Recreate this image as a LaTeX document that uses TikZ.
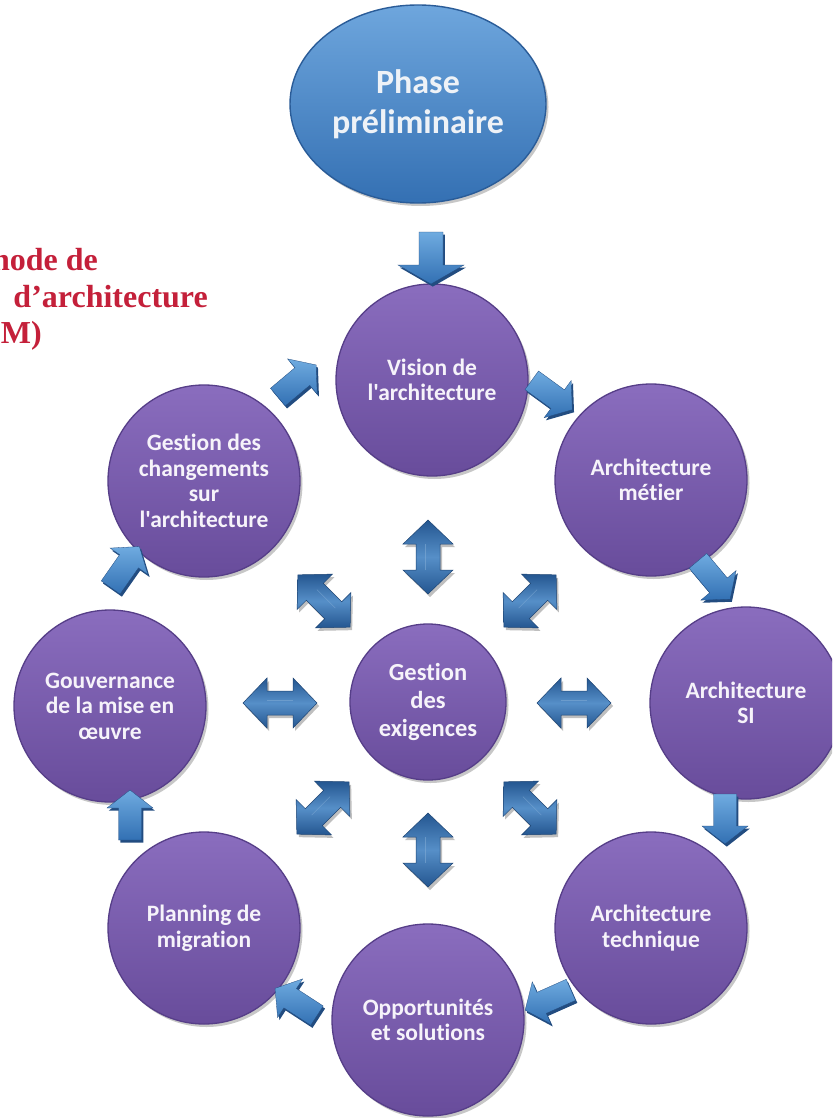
\documentclass[tikz,border=0pt]{standalone}
\usepackage{fontspec}
\newfontfamily\labelfont{Carlito}[Ligatures=CommonOff]
\newfontfamily\titlefont{Liberation Serif}
\usetikzlibrary{shapes.geometric,shadows}

\definecolor{ringtop}{HTML}{8A6DBE}
\definecolor{ringbot}{HTML}{684C9B}
\definecolor{ringrim}{HTML}{563E88}
\definecolor{phasetop}{HTML}{6EA6DD}
\definecolor{phasebot}{HTML}{3470B3}
\definecolor{phaserim}{HTML}{2A5C98}
\definecolor{cyclite}{HTML}{6FABE0}
\definecolor{cycdark}{HTML}{3270B3}
\definecolor{cycback}{HTML}{224C80}
\definecolor{duolite}{HTML}{568FC8}
\definecolor{duodark}{HTML}{245690}
\definecolor{duoedge}{HTML}{1D4473}
\definecolor{labeltext}{HTML}{F6F3FA}
\definecolor{phasetext}{HTML}{EEF2F7}
\definecolor{titlered}{HTML}{C4203A}

\tikzset{
  stage/.style={circle, minimum size=192pt, inner sep=0pt,
    top color=ringtop, bottom color=ringbot, draw=ringrim, line width=1.3pt,
    text=labeltext, align=center,
    font=\labelfont\bfseries\fontsize{23.5}{25.5}\selectfont,
    drop shadow={shadow xshift=2.5pt, shadow yshift=-3pt, opacity=0.22, fill=black}},
  hub/.style={stage, minimum size=156pt,
    font=\labelfont\bfseries\fontsize{24.5}{28}\selectfont},
  phasebox/.style={ellipse, minimum width=256pt, minimum height=198pt, inner sep=0pt,
    top color=phasetop, bottom color=phasebot, draw=phaserim, line width=1.4pt,
    text=phasetext, align=center,
    font=\labelfont\bfseries\fontsize{34}{40}\selectfont,
    drop shadow={shadow xshift=2.5pt, shadow yshift=-3pt, opacity=0.22, fill=black}},
  titleline/.style={anchor=base east, inner sep=0pt, text=titlered,
    font=\titlefont\bfseries\fontsize{32}{37}\selectfont},
  % single block arrow of the cycle, pointing along the angle given
  pics/cycarrow/.style={code={
    \fill[cycback, shift={(1.8,-2.6)}, rotate=#1]
      (-25,-11.5) -- (7,-11.5) -- (7,-23) -- (25,0) -- (7,23) -- (7,11.5) -- (-25,11.5) -- cycle;
    \shade[rotate=#1, top color=cyclite, bottom color=cycdark, draw=cycback, line width=0.3pt]
      (-25,-11.5) -- (7,-11.5) -- (7,-23) -- (25,0) -- (7,23) -- (7,11.5) -- (-25,11.5) -- cycle;
  }},
  % wide-headed arrow below the preliminary phase
  pics/leadarrow/.style={code={
    \fill[cycback, shift={(1.8,-2.6)}, rotate=#1]
      (-26,-12) -- (7,-12) -- (7,-33) -- (26,0) -- (7,33) -- (7,12) -- (-26,12) -- cycle;
    \shade[rotate=#1, top color=cyclite, bottom color=cycdark, draw=cycback, line width=0.3pt]
      (-26,-12) -- (7,-12) -- (7,-33) -- (26,0) -- (7,33) -- (7,12) -- (-26,12) -- cycle;
  }},
  % bevelled two-way arrow around the central node
  pics/duoarrow/.style={code={
    \fill[black, opacity=0.25, shift={(2,-3)}, rotate=#1]
      (-37,0) -- (-13,25) -- (-13,12) -- (13,12) -- (13,25) -- (37,0)
      -- (13,-25) -- (13,-12) -- (-13,-12) -- (-13,-25) -- cycle;
    \shade[rotate=#1, top color=duodark, bottom color=duodark, middle color=duolite,
        draw=duoedge, line width=0.5pt]
      (-37,0) -- (-13,25) -- (-13,12) -- (13,12) -- (13,25) -- (37,0)
      -- (13,-25) -- (13,-12) -- (-13,-12) -- (-13,-25) -- cycle;
    \draw[rotate=#1, duolite!70!white, line width=0.6pt, opacity=0.5]
      (-13,3) -- (13,3);
  }},
}

\begin{document}
\begin{tikzpicture}[x=1pt,y=1pt]
\useasboundingbox (0,-1118) rectangle (832,0);
\clip (0,-1118) rectangle (832,0);
\fill[white] (0,-1118) rectangle (832,0);

% heading, running off the left edge
\node[titleline] (head1) at (98,-270) {hode de};
\node[titleline] (head2) at (208,-307) {d’architecture};
\node[titleline] (head3) at (42,-343) {DM)};

% preliminary phase
\node[phasebox] (phase) at (418,-104) {Phase\\préliminaire};

% the eight stages of the cycle
\node[stage] (vision) at (432,-380) {Vision de\\l'architecture};
\node[stage] (metier) at (651,-480) {Architecture\\métier};
\node[stage] (si)     at (746,-703) {Architecture\\SI};
\node[stage] (tech)   at (651,-928) {Architecture\\technique};
\node[stage] (opp)    at (428,-1020) {Opportunités\\et solutions};
\node[stage] (plan)   at (204,-928) {Planning de\\migration};
\node[stage] (gouv)   at (110,-706) {Gouvernance\\de la mise en\\œuvre};
\node[stage] (chg)    at (204,-481) {Gestion des\\changements\\sur\\l'architecture};

% requirements management in the middle
\node[hub] (hub) at (428,-702) {Gestion\\des\\exigences};

% entry into the cycle
\pic at (431,-258) {leadarrow=-90};

% cycle arrows, clockwise
\pic at (552,-395) {cycarrow=-36};
\pic at (714,-580) {cycarrow=-50};
\pic at (725,-819) {cycarrow=-90};
\pic at (548,-1000) {cycarrow=204};
\pic at (296,-1002) {cycarrow=147};
\pic at (130,-815) {cycarrow=90};
\pic at (125,-567) {cycarrow=55};
\pic at (297,-381) {cycarrow=40};

% two-way links between the hub and the stages
\pic at (428,-557) {duoarrow=90};
\pic at (530,-601) {duoarrow=45};
\pic at (574,-703) {duoarrow=0};
\pic at (530,-808) {duoarrow=-45};
\pic at (428,-850) {duoarrow=90};
\pic at (323,-808) {duoarrow=45};
\pic at (280,-703) {duoarrow=0};
\pic at (324,-601) {duoarrow=-45};
\end{tikzpicture}
\end{document}
